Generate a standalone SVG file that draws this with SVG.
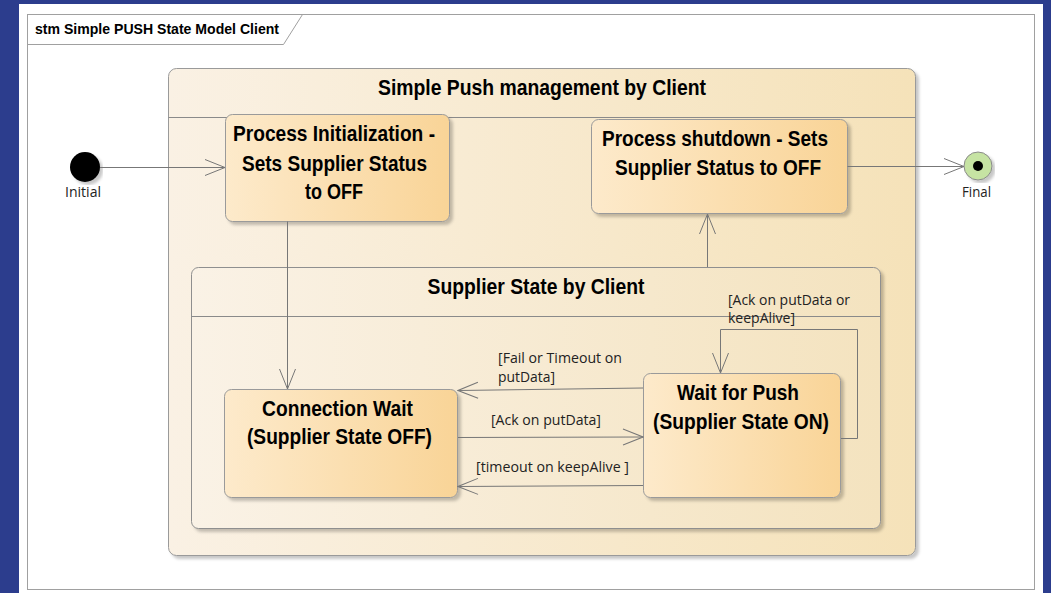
<svg xmlns="http://www.w3.org/2000/svg" width="1051" height="593" viewBox="0 0 1051 593">
<defs>
<linearGradient id="gComp" x1="0" y1="0" x2="1" y2="0">
<stop offset="0" stop-color="#faf1e4"/><stop offset="1" stop-color="#f5e2b9"/>
</linearGradient>
<linearGradient id="gComp2" x1="0" y1="0" x2="1" y2="0">
<stop offset="0" stop-color="#faf2e6"/><stop offset="1" stop-color="#f4e3bf"/>
</linearGradient>
<linearGradient id="gState" x1="0" y1="0" x2="1" y2="0">
<stop offset="0" stop-color="#fdeacb"/><stop offset="1" stop-color="#f9d497"/>
</linearGradient>
<filter id="sh" x="-5%" y="-5%" width="115%" height="115%">
<feDropShadow dx="3" dy="3" stdDeviation="1.5" flood-color="#000" flood-opacity="0.22"/>
</filter>
<marker id="arr" viewBox="0 0 22 18" refX="21" refY="9" markerWidth="22" markerHeight="18" markerUnits="userSpaceOnUse" orient="auto">
<path d="M1,1 L21,9 L1,17" fill="none" stroke="#777" stroke-width="1"/>
</marker>
<style>
.comp{fill:url(#gComp);stroke:#9a9a9a;stroke-width:1;filter:url(#sh)}
.comp2{fill:url(#gComp2);stroke:#8f8f8f;stroke-width:1;filter:url(#sh)}
.state{fill:url(#gState);stroke:#9a9a9a;stroke-width:1;filter:url(#sh)}
.div{stroke:#8a8a8a;stroke-width:1}
.st{font-family:"Liberation Sans Narrow","Liberation Sans",Arial,sans-serif;font-weight:bold;font-size:22px;fill:#000;text-anchor:middle}
.lbl{font-family:"Open Sans","Liberation Sans",sans-serif;font-size:14px;fill:#222}
.con{fill:none;stroke:#777;stroke-width:1;marker-end:url(#arr)}
</style>
</defs>
<rect x="0" y="0" width="1051" height="593" fill="#2c3d8d"/>
<rect x="19" y="4" width="1024" height="589" fill="#ffffff"/>
<g id="frame">
<rect x="27.5" y="14.5" width="1007" height="575" fill="none" stroke="#a0a0a0"/>
<path d="M27.5,44.5 L283.5,44.5 L302.5,14.5" fill="none" stroke="#a0a0a0"/>
<text x="35" y="34" font-family="Liberation Sans,Arial,sans-serif" font-weight="bold" font-size="15px" fill="#000" textLength="244" lengthAdjust="spacingAndGlyphs">stm Simple PUSH State Model Client</text>
</g>
<g id="simple-push-management">
<rect class="comp" x="168.5" y="68.5" width="747" height="487" rx="8"/>
<line class="div" x1="168.5" y1="117.5" x2="915.5" y2="117.5"/>
<text class="st" x="542" y="95" textLength="328" lengthAdjust="spacingAndGlyphs">Simple Push management by Client</text>
</g>
<g id="supplier-state">
<rect class="comp2" x="191.5" y="267.5" width="689" height="261" rx="7"/>
<line class="div" x1="191.5" y1="316.5" x2="880.5" y2="316.5"/>
<text class="st" x="536" y="294" textLength="217" lengthAdjust="spacingAndGlyphs">Supplier State by Client</text>
</g>
<g id="process-init">
<rect class="state" x="225.5" y="114.5" width="224" height="107" rx="7"/>
<text class="st" x="334" y="141" textLength="202" lengthAdjust="spacingAndGlyphs">Process Initialization -</text>
<text class="st" x="334.5" y="171" textLength="185" lengthAdjust="spacingAndGlyphs">Sets Supplier Status</text>
<text class="st" x="334" y="199" textLength="58" lengthAdjust="spacingAndGlyphs">to OFF</text>
</g>
<g id="process-shutdown">
<rect class="state" x="591.5" y="119.5" width="256" height="94" rx="7"/>
<text class="st" x="715" y="146" textLength="226" lengthAdjust="spacingAndGlyphs">Process shutdown - Sets</text>
<text class="st" x="718" y="175" textLength="206" lengthAdjust="spacingAndGlyphs">Supplier Status to OFF</text>
</g>
<g id="connection-wait">
<rect class="state" x="224.5" y="389.5" width="233" height="108" rx="7"/>
<text class="st" x="337.5" y="416" textLength="151" lengthAdjust="spacingAndGlyphs">Connection Wait</text>
<text class="st" x="339.5" y="444" textLength="185" lengthAdjust="spacingAndGlyphs">(Supplier State OFF)</text>
</g>
<g id="wait-for-push">
<rect class="state" x="643.5" y="373.5" width="197" height="124" rx="7"/>
<text class="st" x="738" y="400" textLength="122" lengthAdjust="spacingAndGlyphs">Wait for Push</text>
<text class="st" x="741" y="429" textLength="176" lengthAdjust="spacingAndGlyphs">(Supplier State ON)</text>
</g>
<g id="initial">
<circle cx="85" cy="167" r="15" fill="#000" filter="url(#sh)"/>
<text class="lbl" x="65" y="197" textLength="36" lengthAdjust="spacingAndGlyphs">Initial</text>
</g>
<g id="final">
<circle cx="978" cy="166" r="14" fill="#c6e3a3" stroke="#8a8a8a" filter="url(#sh)"/>
<circle cx="978" cy="166" r="5" fill="#000"/>
<text class="lbl" x="962" y="197" textLength="29" lengthAdjust="spacingAndGlyphs">Final</text>
</g>
<g id="connectors">
<path class="con" d="M100,167.5 L225,167.5"/>
<path class="con" d="M847.5,166.5 L964,166.5"/>
<path class="con" d="M287.5,221.5 L287.5,389"/>
<path class="con" d="M707.5,267 L707.5,214"/>
<path class="con" d="M643,388 L458,390.5"/>
<path class="con" d="M458,437.5 L643,437"/>
<path class="con" d="M643,485.5 L458,486.5"/>
<path class="con" d="M841,438.5 L857.5,438.5 L857.5,329.5 L720.5,329.5 L720.5,373"/>
<text class="lbl" x="498" y="363" textLength="124" lengthAdjust="spacingAndGlyphs">[Fail or Timeout on</text>
<text class="lbl" x="498" y="382" textLength="57" lengthAdjust="spacingAndGlyphs">putData]</text>
<text class="lbl" x="491" y="425" textLength="110" lengthAdjust="spacingAndGlyphs">[Ack on putData]</text>
<text class="lbl" x="476" y="472" textLength="153" lengthAdjust="spacingAndGlyphs">[timeout on keepAlive ]</text>
<text class="lbl" x="728" y="305" textLength="122" lengthAdjust="spacingAndGlyphs">[Ack on putData or</text>
<text class="lbl" x="728" y="323" textLength="67" lengthAdjust="spacingAndGlyphs">keepAlive]</text>
</g>
</svg>
